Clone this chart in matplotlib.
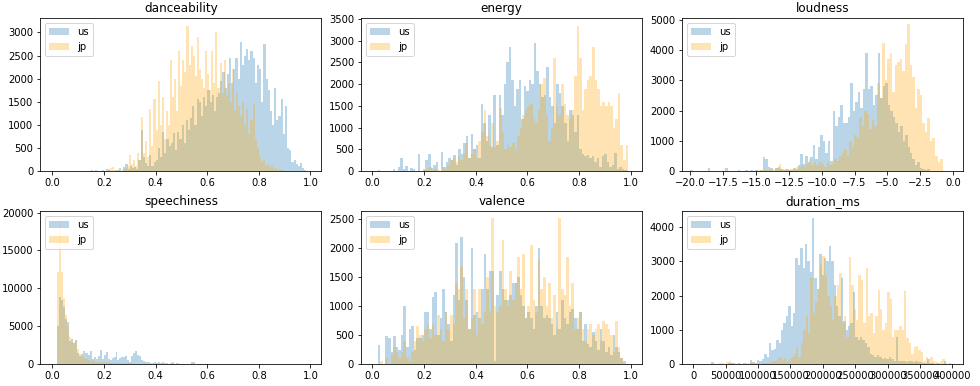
import numpy as np
import matplotlib
matplotlib.use("Agg")
import matplotlib.pyplot as plt

features = ["danceability", "energy", "loudness", "speechiness", "valence", "duration_ms"]

# bin range (lo, hi) and counts per bin
dance_us_range = (0.15, 0.985)
dance_us = [20, 0, 30, 0, 0, 20, 0, 40, 30, 10,
            0, 20, 30, 60, 10, 80, 150, 40, 100, 60,
            90, 40, 250, 880, 300, 180, 100, 350, 120, 200,
            250, 500, 300, 850, 400, 700, 550, 600, 830, 450,
            850, 700, 1000, 600, 1100, 900, 1150, 1400, 1000, 1550,
            1500, 1200, 1600, 1400, 1750, 1500, 1650, 1300, 1600, 1700,
            1950, 2150, 1800, 2100, 2450, 1900, 2200, 2450, 2000, 2800,
            2300, 2500, 2650, 2400, 2600, 2450, 1900, 2300, 2200, 1500,
            2750, 2000, 1750, 1300, 1000, 1800, 1100, 1200, 1550, 800,
            1400, 500, 450, 200, 250, 150, 100, 170, 60, 30]
dance_jp_range = (0.2, 0.92)
dance_jp = [0, 10, 40, 60, 80, 20, 0, 30, 10, 40,
            60, 100, 350, 150, 250, 100, 400, 250, 1180, 400,
            650, 300, 1350, 550, 1550, 900, 1950, 1000, 1600, 700,
            1300, 1000, 2400, 1600, 2000, 1300, 2600, 1850, 2400, 2150,
            3150, 2300, 2700, 2500, 2050, 2900, 2200, 2000, 1800, 2600,
            2100, 1750, 2600, 1900, 3000, 1800, 2350, 1700, 2400, 1650,
            1900, 1500, 2200, 1300, 1700, 1400, 1200, 1500, 1000, 1350,
            800, 1100, 1450, 700, 500, 300, 200, 250, 100, 150,
            80, 100, 50, 60, 30, 40, 20, 10, 0, 0]

energy_us_range = (0.02, 0.995)
energy_us = [30, 0, 0, 0, 0, 0, 40, 0, 100, 300,
             50, 120, 0, 80, 60, 0, 400, 0, 60, 250,
             400, 80, 150, 200, 0, 430, 100, 200, 300, 250,
             380, 150, 500, 400, 650, 800, 300, 850, 500, 600,
             300, 1550, 1100, 700, 1300, 550, 1750, 600, 1750, 1300,
             2000, 2500, 2850, 2100, 1500, 1900, 2100, 1200, 1950, 1850,
             2100, 2000, 2950, 2300, 2000, 1700, 1750, 2400, 1700, 1500,
             1100, 2000, 1800, 1500, 1100, 700, 1400, 1300, 900, 1300,
             500, 400, 350, 380, 300, 350, 200, 300, 100, 350,
             400, 200, 100, 150, 420, 60, 100, 50, 30, 10]
energy_jp_range = (0.2, 1.0)
energy_jp = [20, 80, 100, 30, 50, 20, 0, 100, 60, 150,
             250, 300, 200, 350, 250, 400, 650, 300, 400, 500,
             300, 700, 900, 1400, 800, 600, 1100, 550, 700, 1450,
             900, 500, 600, 550, 650, 500, 800, 1000, 1300, 1400,
             1500, 1550, 1200, 1100, 1400, 2000, 2150, 1300, 700, 1000,
             2600, 1500, 1300, 2000, 1550, 1300, 1200, 1400, 2200, 3350,
             2600, 1400, 1900, 2100, 2200, 2850, 2100, 1900, 1500, 1600,
             1500, 1600, 1500, 1000, 1200, 1800, 600, 250, 600, 0]

loud_us_range = (-20.0, -1.0)
loud_us = [30, 0, 0, 0, 0, 0, 0, 100, 0, 0,
           0, 0, 0, 0, 100, 0, 0, 0, 0, 50,
           0, 0, 30, 0, 30, 20, 30, 0, 40, 450,
           400, 150, 100, 0, 100, 120, 80, 50, 60, 40,
           50, 100, 60, 200, 550, 250, 500, 300, 450, 850,
           400, 800, 1200, 1000, 600, 1000, 350, 2000, 1500, 1800,
           2200, 1600, 1600, 1800, 2900, 2000, 2300, 2600, 2100, 2700,
           3900, 2700, 2800, 2200, 2500, 3900, 2400, 2800, 2900, 2200,
           2000, 1800, 1600, 1300, 1500, 1000, 1200, 800, 600, 400,
           200, 300, 100, 80, 50, 60, 20, 10, 0, 0]
loud_jp_range = (-20.0, -0.8)
loud_jp = [0, 0, 0, 0, 0, 0, 0, 0, 0, 0,
           0, 0, 0, 0, 0, 0, 0, 0, 0, 0,
           0, 0, 0, 0, 0, 20, 0, 30, 50, 30,
           50, 40, 60, 80, 100, 220, 60, 50, 80, 60,
           80, 100, 120, 150, 200, 150, 250, 400, 200, 300,
           200, 300, 250, 150, 300, 200, 250, 400, 350, 500,
           600, 700, 500, 1000, 800, 1200, 1100, 1800, 1500, 2000,
           1900, 1400, 1700, 1500, 2900, 2400, 4250, 3000, 3700, 3900,
           2600, 3500, 3600, 3700, 3300, 4200, 4850, 3500, 3100, 2100,
           2700, 2500, 1600, 1300, 1750, 1000, 1100, 500, 300, 400]

speech_us_range = (0.02, 0.62)
speech_us = [5000, 8800, 8500, 7500, 6000, 5600, 3000, 3300, 2800, 3200,
             1500, 1000, 1300, 1700, 1400, 1500, 1200, 1700, 700, 900,
             700, 1000, 1800, 600, 1200, 1600, 700, 500, 800, 900,
             1600, 500, 800, 900, 950, 1000, 500, 200, 1000, 1500,
             1700, 1200, 1000, 500, 400, 300, 200, 300, 150, 100,
             300, 100, 300, 150, 200, 80, 150, 60, 100, 300,
             50, 80, 100, 40, 50, 30, 40, 20, 60, 200,
             200, 30, 10, 20, 0, 10, 0, 0, 10, 0]
speech_jp_range = (0.02, 0.5)
speech_jp = [12200, 19000, 12200, 8700, 6500, 5000, 3500, 2900, 2800, 3000,
             2000, 1300, 1100, 800, 700, 600, 500, 400, 500, 300,
             300, 250, 300, 200, 250, 150, 200, 100, 150, 120,
             100, 150, 80, 100, 120, 60, 100, 80, 120, 60,
             50, 40, 30, 20, 30, 20, 10, 20, 10, 0,
             10, 0, 0, 0, 0, 0, 0, 0, 0, 0, 0, 0, 0, 0]

val_us_range = (0.02, 0.98)
val_us = [330, 0, 0, 480, 450, 200, 480, 300, 250, 500,
          1000, 300, 600, 650, 250, 450, 450, 500, 900, 900,
          600, 1150, 1250, 500, 800, 1300, 900, 700, 400, 1200,
          2100, 1100, 2200, 1500, 1100, 600, 2000, 850, 900, 800,
          1300, 1900, 1300, 1600, 1600, 50, 1200, 1600, 1300, 1100,
          1100, 1200, 1400, 1400, 1500, 1200, 1000, 800, 900, 800,
          600, 1000, 2000, 1000, 800, 850, 800, 700, 500, 900,
          600, 1100, 800, 700, 900, 950, 800, 600, 900, 400,
          700, 350, 300, 550, 400, 250, 600, 400, 200, 300,
          150, 500, 300, 200, 100, 50]
val_jp_range = (0.02, 0.98)
val_jp = [0, 50, 0, 100, 0, 150, 300, 200, 100, 200,
          400, 100, 50, 200, 400, 650, 500, 400, 600, 700,
          450, 700, 500, 850, 600, 400, 900, 600, 850, 700,
          1400, 1300, 1700, 800, 1300, 600, 800, 1300, 500, 1300,
          700, 900, 1500, 900, 2530, 1000, 900, 1000, 2150, 1300,
          1000, 1600, 1100, 1400, 1850, 1300, 1900, 800, 1000, 2050,
          1100, 900, 1800, 1300, 1500, 1000, 1400, 800, 1200, 600,
          2520, 1300, 1200, 1850, 1000, 1400, 600, 800, 900, 600,
          400, 600, 700, 500, 600, 700, 400, 750, 700, 600,
          500, 200, 750, 300, 100, 0]

dur_us_range = (28000, 398000)
dur_us = [60, 0, 0, 0, 0, 0, 0, 20, 30, 40,
          0, 20, 0, 30, 40, 0, 120, 50, 40, 130,
          80, 150, 300, 200, 620, 400, 450, 700, 600, 1000,
          1200, 1400, 1700, 1100, 1500, 3100, 2900, 3400, 2800, 3500,
          3000, 2700, 4270, 2500, 2200, 3200, 2600, 3100, 3000, 3450,
          3000, 2300, 1700, 1400, 2500, 1250, 1000, 1100, 1200, 2100,
          800, 700, 800, 700, 600, 500, 300, 250, 200, 250,
          200, 150, 180, 150, 200, 150, 100, 780, 100, 80,
          100, 60, 80, 100, 50, 80, 60, 50, 30, 40,
          150, 20, 30, 10, 20, 0, 0, 100, 0, 30]
dur_jp_range = (40000, 392000)
dur_jp = [30, 20, 0, 60, 100, 40, 0, 0, 20, 0,
          10, 0, 30, 50, 20, 0, 40, 10, 20, 30,
          40, 60, 100, 80, 150, 200, 120, 180, 100, 150,
          200, 300, 500, 200, 600, 1000, 1400, 900, 2500, 1500,
          1800, 2200, 2900, 3150, 2600, 2000, 1700, 1300, 2000, 2300,
          2650, 1200, 1400, 800, 3120, 2300, 1600, 1300, 2600, 2450,
          1200, 2800, 1400, 1500, 900, 1400, 2170, 1600, 1000, 1200,
          2100, 1900, 800, 1000, 1000, 1100, 1000, 2130, 750, 600,
          300, 500, 520, 400, 350, 100, 200, 150, 200, 100,
          50, 30, 80, 150, 40]

series = {
    "danceability": (dance_us_range, dance_us, dance_jp_range, dance_jp),
    "energy": (energy_us_range, energy_us, energy_jp_range, energy_jp),
    "loudness": (loud_us_range, loud_us, loud_jp_range, loud_jp),
    "speechiness": (speech_us_range, speech_us, speech_jp_range, speech_jp),
    "valence": (val_us_range, val_us, val_jp_range, val_jp),
    "duration_ms": (dur_us_range, dur_us, dur_jp_range, dur_jp),
}

# axis limits as seen in the picture
xlims = {
    "danceability": (-0.047, 1.043), "energy": (-0.044, 1.045),
    "loudness": (-20.63, 0.78), "speechiness": (-0.047, 1.043),
    "valence": (-0.044, 1.045), "duration_ms": (-17450, 417000),
}
ylims = {
    "danceability": 3310, "energy": 3520, "loudness": 5056,
    "speechiness": 20200, "valence": 2645, "duration_ms": 4470,
}
ysteps = {
    "danceability": 500, "energy": 500, "loudness": 1000,
    "speechiness": 5000, "valence": 500, "duration_ms": 1000,
}


def draw_hist(ax, rng, counts, **kw):
    edges = np.linspace(rng[0], rng[1], len(counts) + 1)
    centers = (edges[:-1] + edges[1:]) / 2
    ax.hist(centers, bins=edges, weights=counts, **kw)


fig, axes = plt.subplots(2, 3, figsize=(980 / 72, 386 / 72), dpi=72)
fig.subplots_adjust(left=0.041, right=0.983, bottom=0.057, top=0.953,
                    wspace=0.141, hspace=0.261)

for ax, name in zip(axes.flat, features):
    us_rng, us_counts, jp_rng, jp_counts = series[name]
    draw_hist(ax, us_rng, us_counts, alpha=0.3, color="C0", label="us")
    draw_hist(ax, jp_rng, jp_counts, alpha=0.3, color="orange", label="jp")
    ax.set_title(name)
    ax.set_xlim(*xlims[name])
    ax.set_ylim(0, ylims[name])
    ax.set_yticks(np.arange(0, ylims[name], ysteps[name]))
    ax.legend(loc="upper left")

fig.savefig("out.png", dpi=72)
